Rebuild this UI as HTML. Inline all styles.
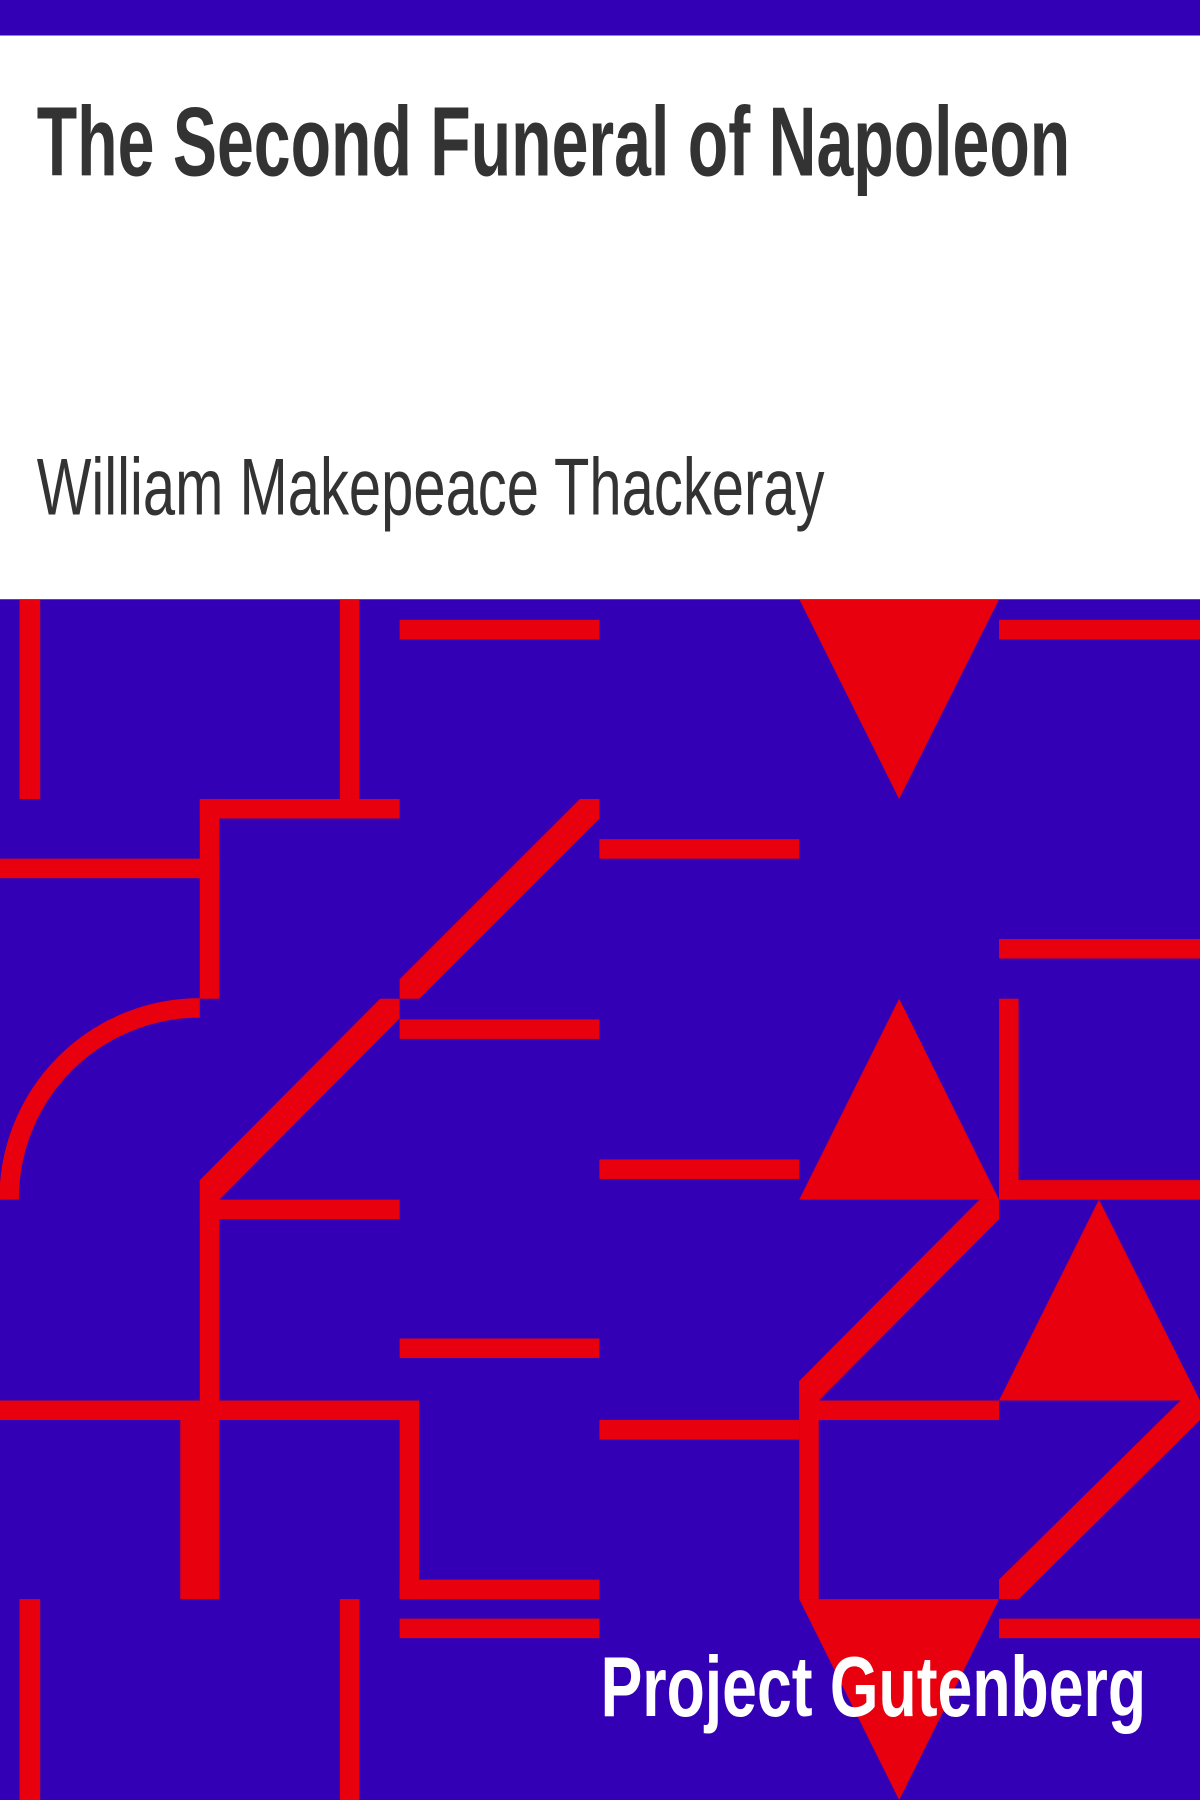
<!DOCTYPE html>
<html><head><meta charset="utf-8"><style>
html,body{margin:0;padding:0;width:1200px;height:1800px;overflow:hidden;background:#fff}
svg{display:block}
</style></head><body>
<svg width="1200" height="1800" viewBox="0 0 1045 1568" preserveAspectRatio="none" xmlns="http://www.w3.org/2000/svg">
<rect x="0" y="0" width="1045" height="31" fill="#3300b5"/>
<rect x="0" y="31" width="1045" height="491" fill="#fff"/>
<text x="32" y="153" font-family="'Liberation Sans Narrow','Liberation Sans',sans-serif" font-weight="bold" font-size="86" fill="#333" textLength="900" lengthAdjust="spacingAndGlyphs">The Second Funeral of Napoleon</text>
<text x="32" y="448" font-family="'Liberation Sans Narrow','Liberation Sans',sans-serif" font-size="70" fill="#333" textLength="686" lengthAdjust="spacingAndGlyphs">William Makepeace Thackeray</text>
<g>
<rect x="0" y="522" width="1045" height="1046" fill="#3300b5"/>
<g fill="#e8000e">
<rect x="17" y="522" width="18" height="174"/>
<rect x="296" y="522" width="17" height="174"/>
<rect x="348" y="540" width="174" height="17"/>
<polygon points="696,522 870,522 783,696"/>
<rect x="870" y="540" width="175" height="17"/>
<rect x="174" y="696" width="174" height="17"/>
<rect x="174" y="696" width="17" height="174"/>
<rect x="0" y="748" width="191" height="17"/>
<polygon points="348,853 505,696 522,696 522,713 365,870 348,870"/>
<rect x="522" y="731" width="174" height="17"/>
<rect x="870" y="818" width="175" height="17"/>
<rect x="348" y="888" width="174" height="17"/>
<polygon points="174,1028 331,870 348,870 348,887 191,1045 174,1045"/>
<rect x="174" y="1028" width="17" height="192"/>
<rect x="174" y="1045" width="174" height="17"/>
<polygon points="696,1045 870,1045 783,870"/>
<rect x="522" y="1010" width="174" height="17"/>
<rect x="870" y="870" width="17" height="175"/>
<rect x="870" y="1028" width="175" height="17"/>
<polygon points="696,1203 853,1045 870,1045 870,1062 713,1220 696,1220"/>
<rect x="696" y="1203" width="17" height="190"/>
<polygon points="870,1220 1045,1220 957,1045"/>
<rect x="348" y="1166" width="174" height="17"/>
<rect x="0" y="1220" width="365" height="17"/>
<rect x="348" y="1220" width="17" height="173"/>
<rect x="348" y="1376" width="174" height="17"/>
<rect x="157" y="1220" width="34" height="173"/>
<rect x="522" y="1237" width="174" height="17"/>
<rect x="696" y="1220" width="174" height="17"/>
<polygon points="870,1376 1028,1220 1045,1220 1045,1237 887,1393 870,1393"/>
<polygon points="696,1393 870,1393 783,1568"/>
<rect x="348" y="1410" width="174" height="17"/>
<rect x="870" y="1410" width="175" height="17"/>
<rect x="17" y="1393" width="18" height="175"/>
<rect x="296" y="1393" width="17" height="175"/>
</g>
<path d="M174,878 A166,166 0 0 0 8,1045" fill="none" stroke="#e8000e" stroke-width="17"/>
</g>
<text x="523" y="1495" font-family="'Liberation Sans Narrow','Liberation Sans',sans-serif" font-weight="bold" font-size="74" fill="#fff" textLength="475" lengthAdjust="spacingAndGlyphs">Project Gutenberg</text>
</svg>
</body></html>
